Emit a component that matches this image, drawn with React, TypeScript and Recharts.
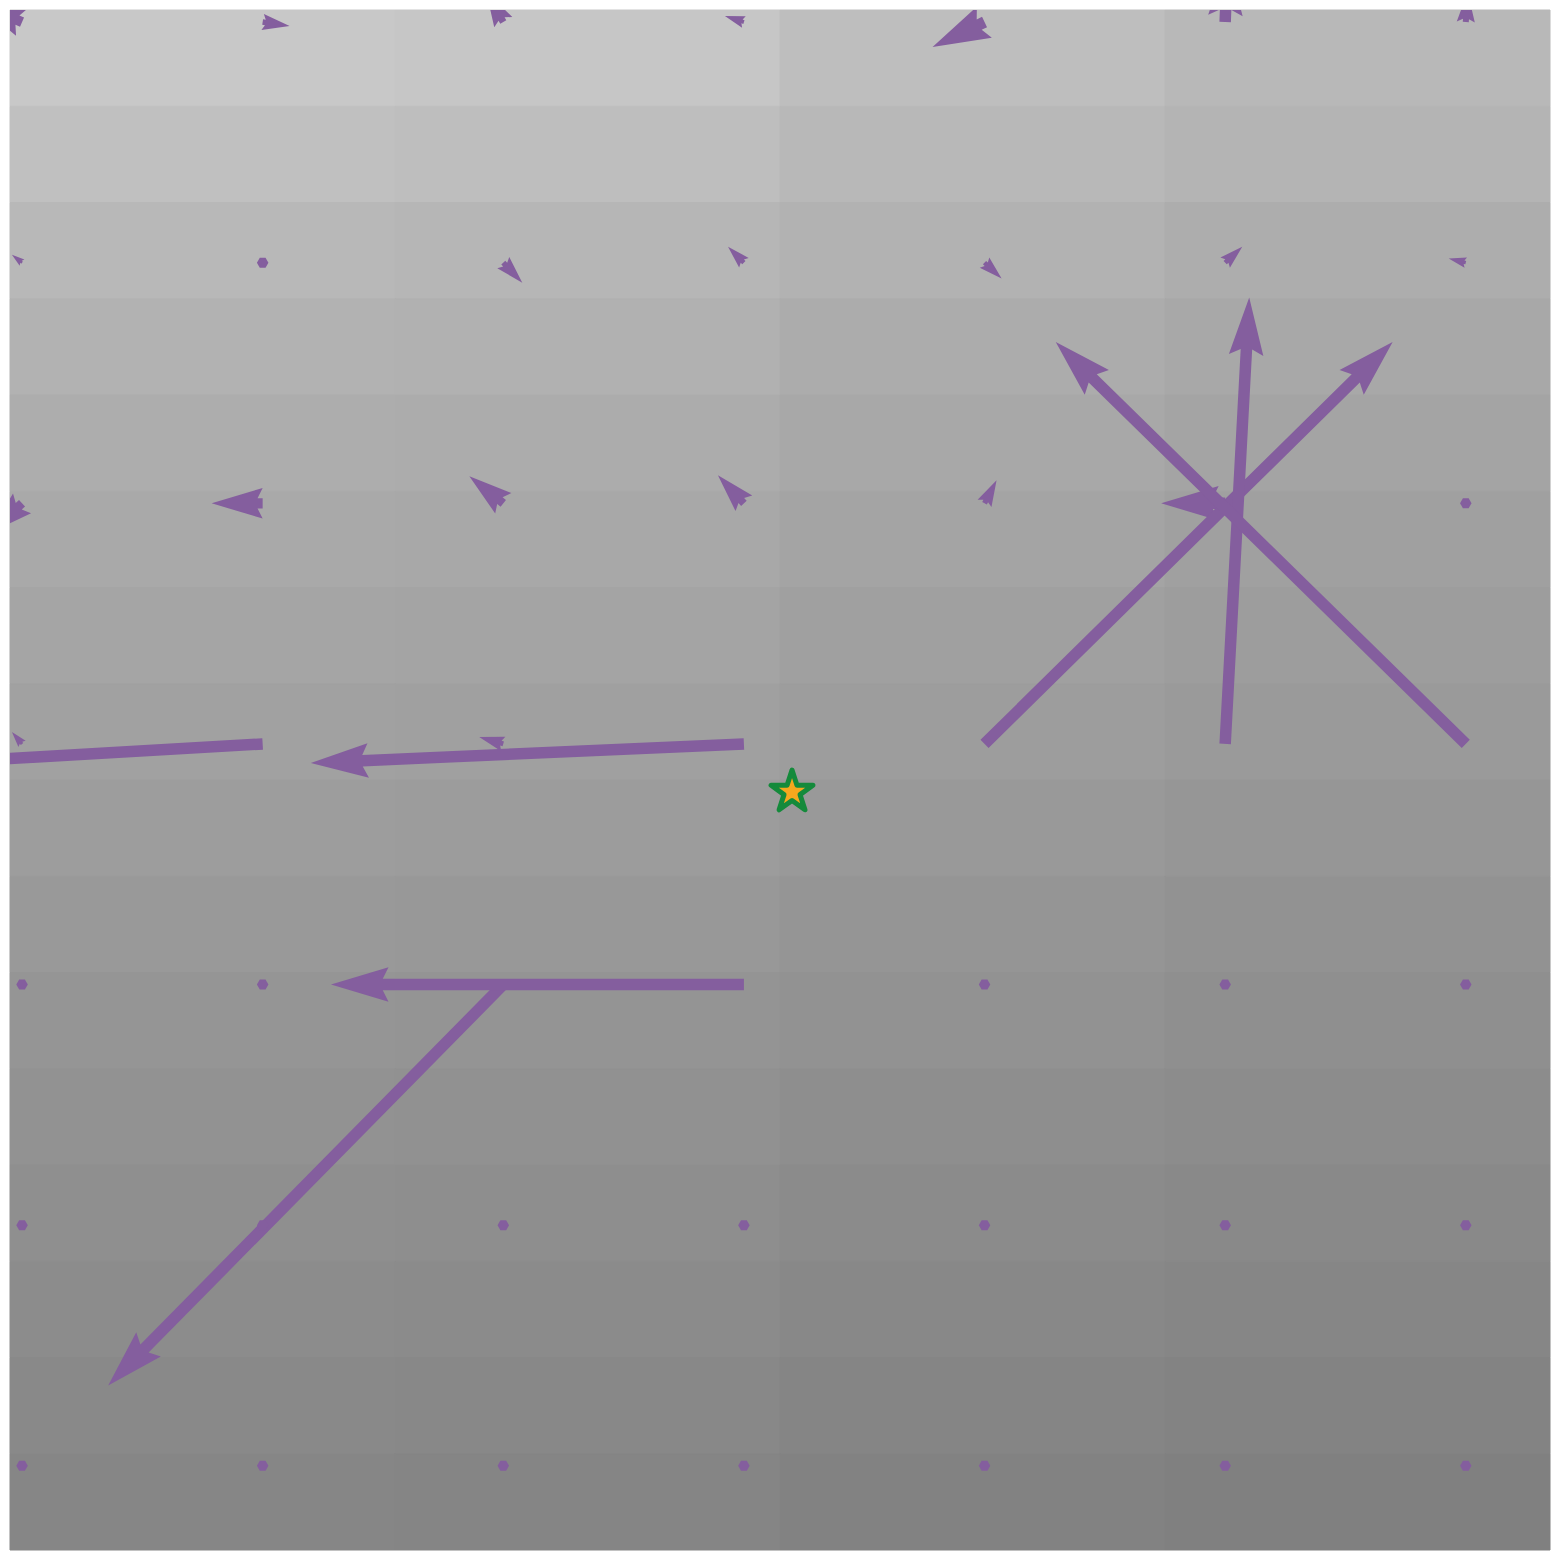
import { ComposedChart, XAxis, YAxis, ReferenceArea, ReferenceLine, Scatter } from 'recharts';

// quiver grid positions (cell index units)
const gridX = [0, 10, 20, 30, 40, 50, 60];
const gridY = [0, 10, 20, 30, 40, 50, 60];

// arrow components in cells, one row per gridY (v grows down the image)
const arrowU = [
  [-1.91, 1.12, -0.71, -0.79, -2.16, 0.1, 0.08],
  [-0.42, 0, 0.79, -0.66, 0.71, 0.71, -0.71],
  [-1.37, -2.12, -1.41, -1.08, 0.5, -2.66, 0],
  [-0.42, -17.9, -1.0, -18.0, 16.96, 1.0, -17.04],
  [0, 0, -16.42, -17.16, 0, 0, 0],
  [0, 0, 0, 0, 0, 0, 0],
  [0, 0, 0, 0, 0, 0, 0],
];
const arrowV = [
  [-0.83, 0.17, -1.25, -0.25, 1.04, -2.66, -1.25],
  [-0.33, 0, 0.83, -0.66, 0.66, -0.66, -0.17],
  [1.25, 0, -1.12, -1.16, -0.96, 0, 0],
  [-0.5, 1.04, -0.29, 0.79, -16.7, -18.55, -16.7],
  [0, 0, 16.66, 0, 0, 0, 0],
  [0, 0, 0, 0, 0, 0, 0],
  [0, 0, 0, 0, 0, 0, 0],
];

// background shading, averaged over blocks of the pixel field
const shadeRowEdges = [-0.5, 3.5, 7.5, 11.5, 15.5, 19.5, 23.5, 27.5, 31.5, 35.5, 39.5, 43.5, 47.5, 51.5, 55.5, 59.5, 63.5];
const shadeColEdges = [-0.5, 15.5, 31.5, 47.5, 63.5];
const shadeLevels = [
  [200, 198, 190, 184],
  [192, 190, 184, 180],
  [184, 182, 178, 173],
  [178, 177, 172, 168],
  [173, 172, 168, 164],
  [169, 168, 164, 160],
  [165, 164, 160, 157],
  [161, 160, 157, 154],
  [157, 156, 153, 150],
  [153, 152, 149, 146],
  [149, 148, 146, 143],
  [146, 145, 142, 140],
  [143, 142, 139, 137],
  [140, 139, 136, 134],
  [137, 136, 133, 131],
  [134, 133, 130, 128],
];

const starPoint = [{ x: 32, y: 32 }];

const ARROW = '#845e9e';
const W = 11.5; // shaft width in px

function Arrow(props: any) {
  const { x1, y1, x2, y2, clipPath } = props;
  const dx = x2 - x1;
  const dy = y2 - y1;
  const L = Math.hypot(dx, dy);
  let pts: number[][];
  if (L < W) {
    pts = [0, 1, 2, 3, 4, 5].map((k) => [
      x1 + 0.5 * W * Math.cos((k * Math.PI) / 3),
      y1 + 0.5 * W * Math.sin((k * Math.PI) / 3),
    ]);
  } else {
    const ux = dx / L;
    const uy = dy / L;
    let local: number[][];
    if (L >= 5 * W) {
      local = [
        [0, 0.5 * W], [L - 4.5 * W, 0.5 * W], [L - 5 * W, 1.5 * W], [L, 0],
        [L - 5 * W, -1.5 * W], [L - 4.5 * W, -0.5 * W], [0, -0.5 * W],
      ];
    } else {
      const s = L / (5 * W);
      local = [
        [0, 0.5 * W * s], [0.5 * W * s, 0.5 * W * s], [0, 1.5 * W * s], [L, 0],
        [0, -1.5 * W * s], [0.5 * W * s, -0.5 * W * s], [0, -0.5 * W * s],
      ];
    }
    pts = local.map(([a, b]) => [x1 + a * ux - b * uy, y1 + a * uy + b * ux]);
  }
  return (
    <g clipPath={clipPath}>
      <polygon points={pts.map((p) => p.join(',')).join(' ')} fill={ARROW} />
    </g>
  );
}

function Star(props: any) {
  const { cx, cy } = props;
  const R = 22;
  const r = R * 0.382;
  const pts = [];
  for (let k = 0; k < 10; k++) {
    const rad = k % 2 === 0 ? R : r;
    const a = -Math.PI / 2 + (k * Math.PI) / 5;
    pts.push(`${cx + rad * Math.cos(a)},${cy + rad * Math.sin(a)}`);
  }
  return (
    <polygon
      points={pts.join(' ')}
      fill="#f5a81e"
      stroke="#148a3b"
      strokeWidth={5}
      strokeLinejoin="round"
    />
  );
}

export default function App() {
  return (
    <ComposedChart width={1544} height={1544} margin={{ top: 2, right: 2, bottom: 2, left: 2 }}>
      <XAxis type="number" dataKey="x" domain={[-0.5, 63.5]} allowDataOverflow hide />
      <YAxis type="number" dataKey="y" domain={[-0.5, 63.5]} allowDataOverflow reversed hide />
      {shadeLevels.map((row, i) =>
        row.map((g, j) => (
          <ReferenceArea
            key={`bg-${i}-${j}`}
            x1={shadeColEdges[j]}
            x2={shadeColEdges[j + 1]}
            y1={shadeRowEdges[i]}
            y2={shadeRowEdges[i + 1]}
            fill={`rgb(${g},${g},${g})`}
            fillOpacity={1}
            stroke={`rgb(${g},${g},${g})`}
            strokeWidth={1}
          />
        ))
      )}
      {gridY.map((gy, i) =>
        gridX.map((gx, j) => (
          <ReferenceLine
            key={`arrow-${i}-${j}`}
            segment={[
              { x: gx, y: gy },
              { x: gx + arrowU[i][j], y: gy + arrowV[i][j] },
            ]}
            ifOverflow="hidden"
            shape={Arrow}
          />
        ))
      )}
      <Scatter data={starPoint} dataKey="y" shape={Star} isAnimationActive={false} />
    </ComposedChart>
  );
}
